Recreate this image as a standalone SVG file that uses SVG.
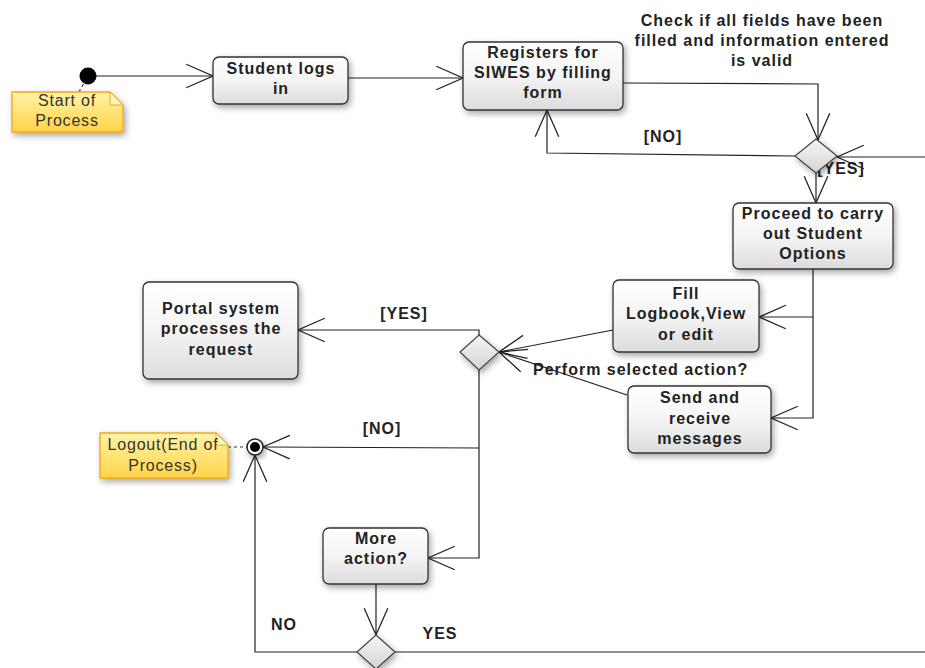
<svg xmlns="http://www.w3.org/2000/svg" width="925" height="668" viewBox="0 0 925 668">
<defs>
<linearGradient id="gBox" x1="0" y1="0" x2="0" y2="1">
<stop offset="0" stop-color="#ffffff"/>
<stop offset="0.5" stop-color="#f4f4f4"/>
<stop offset="1" stop-color="#dcdcdc"/>
</linearGradient>
<linearGradient id="gDia" x1="0" y1="0" x2="0" y2="1">
<stop offset="0" stop-color="#f6f6f6"/>
<stop offset="1" stop-color="#d4d4d4"/>
</linearGradient>
<linearGradient id="gNote" x1="0" y1="0" x2="0" y2="1">
<stop offset="0" stop-color="#fff3a8"/>
<stop offset="1" stop-color="#ffd447"/>
</linearGradient>
<filter id="sh" x="-20%" y="-20%" width="140%" height="150%">
<feDropShadow dx="2" dy="3" stdDeviation="3" flood-color="#000" flood-opacity="0.35"/>
</filter>
<marker id="arr" markerUnits="userSpaceOnUse" markerWidth="30" markerHeight="30" viewBox="-26 -13 28 26" refX="0" refY="0" orient="auto">
<path d="M-25,-11 L0,0 L-25,11" fill="none" stroke="#222" stroke-width="1.2"/>
</marker>
</defs>
<style>
.box{fill:url(#gBox);stroke:#333;stroke-width:1.3;filter:url(#sh)}
.dia{fill:url(#gDia);stroke:#444;stroke-width:1.2;filter:url(#sh)}
.note{fill:url(#gNote);stroke:#f0a818;stroke-width:1.3;filter:url(#sh)}
.fold{fill:#fff7c8;stroke:#f0a818;stroke-width:1}
.t{font-family:"Liberation Sans",Arial,sans-serif;font-size:16px;font-weight:bold;fill:#222;text-anchor:middle;letter-spacing:1px}
.tl{font-family:"Liberation Sans",Arial,sans-serif;font-size:16px;font-weight:bold;fill:#222;letter-spacing:1px}
.tn{font-family:"Liberation Sans",Arial,sans-serif;font-size:16px;fill:#333;text-anchor:middle;letter-spacing:0.8px}
.c{fill:none;stroke:#222;stroke-width:1.2}
.ca{fill:none;stroke:#222;stroke-width:1.2;marker-end:url(#arr)}
.d{fill:none;stroke:#333;stroke-width:1.2;stroke-dasharray:3,3}
</style>

<g id="connectors">
<path class="ca" d="M96,76 L213,76"/>
<path class="ca" d="M348,78 L463,78"/>
<path class="ca" d="M623,83 L818,84 L818,140"/>
<path class="ca" d="M795,156 L547,153 L547,110"/>
<path class="ca" d="M925,157 L837,157"/>
<path class="ca" d="M816,173 L816,203"/>
<path class="ca" d="M813,269 L813,317 L759,317"/>
<path class="ca" d="M813,317 L813,418 L771,418"/>
<path class="ca" d="M613,330 L499,352"/>
<path class="ca" d="M627,395 L499,352"/>
<path class="ca" d="M479,335 L479,330 L298,330"/>
<path class="ca" d="M479,448 L263,447"/>
<path class="ca" d="M479,370 L479,558 L428,558"/>
<path class="ca" d="M376,584 L376,635"/>
<path class="ca" d="M357,652 L255,652 L255,455"/>
<path class="c" d="M395,652 L925,652"/>
<path class="d" d="M79,92 L84,83"/>
<path class="d" d="M228,447 L247,447"/>
<text class="t" x="663" y="142">[NO]</text>
<text class="t" x="841" y="174">[YES]</text>
<text class="t" x="404" y="319">[YES]</text>
<text class="t" x="382" y="434">[NO]</text>
<text class="tl" x="533" y="375">Perform selected action?</text>
<text class="t" x="284" y="630">NO</text>
<text class="t" x="440" y="639">YES</text>
<text class="t" x="762" y="26">Check if all fields have been</text>
<text class="t" x="762" y="46">filled and information entered</text>
<text class="t" x="762" y="66">is valid</text>
</g>

<g id="start">
<circle cx="88" cy="76" r="8.5" fill="#000"/>
</g>
<g id="startNote">
<path class="note" d="M12,92 L110,92 L123,105 L123,132 L12,132 Z"/>
<path class="fold" d="M110,92 L110,105 L123,105 Z"/>
<text class="tn" x="67" y="106">Start of</text>
<text class="tn" x="67" y="126">Process</text>
</g>

<g id="studentLogsIn">
<rect class="box" x="213" y="57" width="135" height="47" rx="6"/>
<text class="t" x="281" y="74">Student logs</text>
<text class="t" x="281" y="94">in</text>
</g>

<g id="registers">
<rect class="box" x="463" y="42" width="160" height="68" rx="6"/>
<text class="t" x="543" y="58">Registers for</text>
<text class="t" x="543" y="78">SIWES by filling</text>
<text class="t" x="543" y="98">form</text>
</g>

<g id="decisionValid">
<polygon class="dia" points="816,139 837,156 816,173 795,156"/>
</g>

<g id="proceed">
<rect class="box" x="733" y="203" width="160" height="66" rx="6"/>
<text class="t" x="813" y="219">Proceed to carry</text>
<text class="t" x="813" y="239">out Student</text>
<text class="t" x="813" y="259">Options</text>
</g>

<g id="fillLogbook">
<rect class="box" x="613" y="280" width="146" height="72" rx="6"/>
<text class="t" x="686" y="299">Fill</text>
<text class="t" x="686" y="319">Logbook,View</text>
<text class="t" x="686" y="340">or edit</text>
</g>

<g id="sendReceive">
<rect class="box" x="628" y="386" width="143" height="67" rx="6"/>
<text class="t" x="700" y="403">Send and</text>
<text class="t" x="700" y="424">receive</text>
<text class="t" x="700" y="444">messages</text>
</g>

<g id="decisionPerform">
<polygon class="dia" points="479,335 499,352 479,370 460,352"/>
</g>

<g id="portal">
<rect class="box" x="143" y="282" width="155" height="97" rx="6"/>
<text class="t" x="221" y="314">Portal system</text>
<text class="t" x="221" y="334">processes the</text>
<text class="t" x="221" y="355">request</text>
</g>

<g id="end">
<circle cx="255" cy="447" r="8" fill="#fff" stroke="#222" stroke-width="1.5" filter="url(#sh)"/>
<circle cx="255" cy="447" r="5" fill="#000"/>
</g>
<g id="logoutNote">
<path class="note" d="M100,433 L216,433 L228,445 L228,478 L100,478 Z"/>
<path class="fold" d="M216,433 L216,445 L228,445 Z"/>
<text class="tn" x="163" y="450">Logout(End of</text>
<text class="tn" x="163" y="471">Process)</text>
</g>

<g id="moreAction">
<rect class="box" x="323" y="528" width="105" height="56" rx="6"/>
<text class="t" x="376" y="544">More</text>
<text class="t" x="376" y="564">action?</text>
</g>

<g id="decisionMore">
<polygon class="dia" points="376,635 395,652 376,669 357,652"/>
</g>
</svg>
